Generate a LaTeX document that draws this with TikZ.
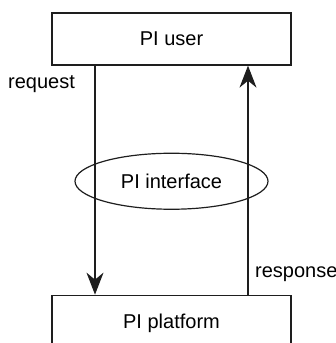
\documentclass[tikz,border=0pt]{standalone}
\usepackage{fontspec}
\setmainfont{Liberation Sans}
\usepackage{tikz}
\usetikzlibrary{arrows.meta,positioning,shapes.geometric}
\definecolor{ink}{RGB}{30,30,30}
\tikzset{
  party/.style={draw=ink, line width=1.3pt, fill=white, align=center, inner sep=0pt,
    minimum width=239pt, minimum height=52pt},
  iface/.style={draw=ink, line width=1.2pt, ellipse, inner sep=0pt,
    minimum width=193pt, minimum height=56pt},
  flow/.style={draw=ink, line width=1.1pt, -{Stealth[length=22pt, width=17pt, inset=7pt]}},
  lbl/.style={inner sep=0pt}
}
\begin{document}
\begin{tikzpicture}[x=1pt, y=1pt, font=\fontsize{20}{24}\selectfont]
    \useasboundingbox (0,0) rectangle (336,343);
    \clip (0,0) rectangle (336,343);
    \node[party] (user) at (171.5,304) {PI user};
    \node[party, minimum height=56pt, below=229pt of user] (platform) {PI platform};
    \node[iface, below=87pt of user] (pi) {PI interface};

    \draw[flow] ([xshift=-76.5pt]user.south) -- ([xshift=-76.5pt]platform.north);
    \draw[flow] ([xshift=76.5pt]platform.north) -- ([xshift=76.5pt]user.south);
    \node[lbl] (req) at (41.5,259) {request};
    \node[lbl, anchor=west] (resp) at (255,69) {response};
\end{tikzpicture}
\end{document}
